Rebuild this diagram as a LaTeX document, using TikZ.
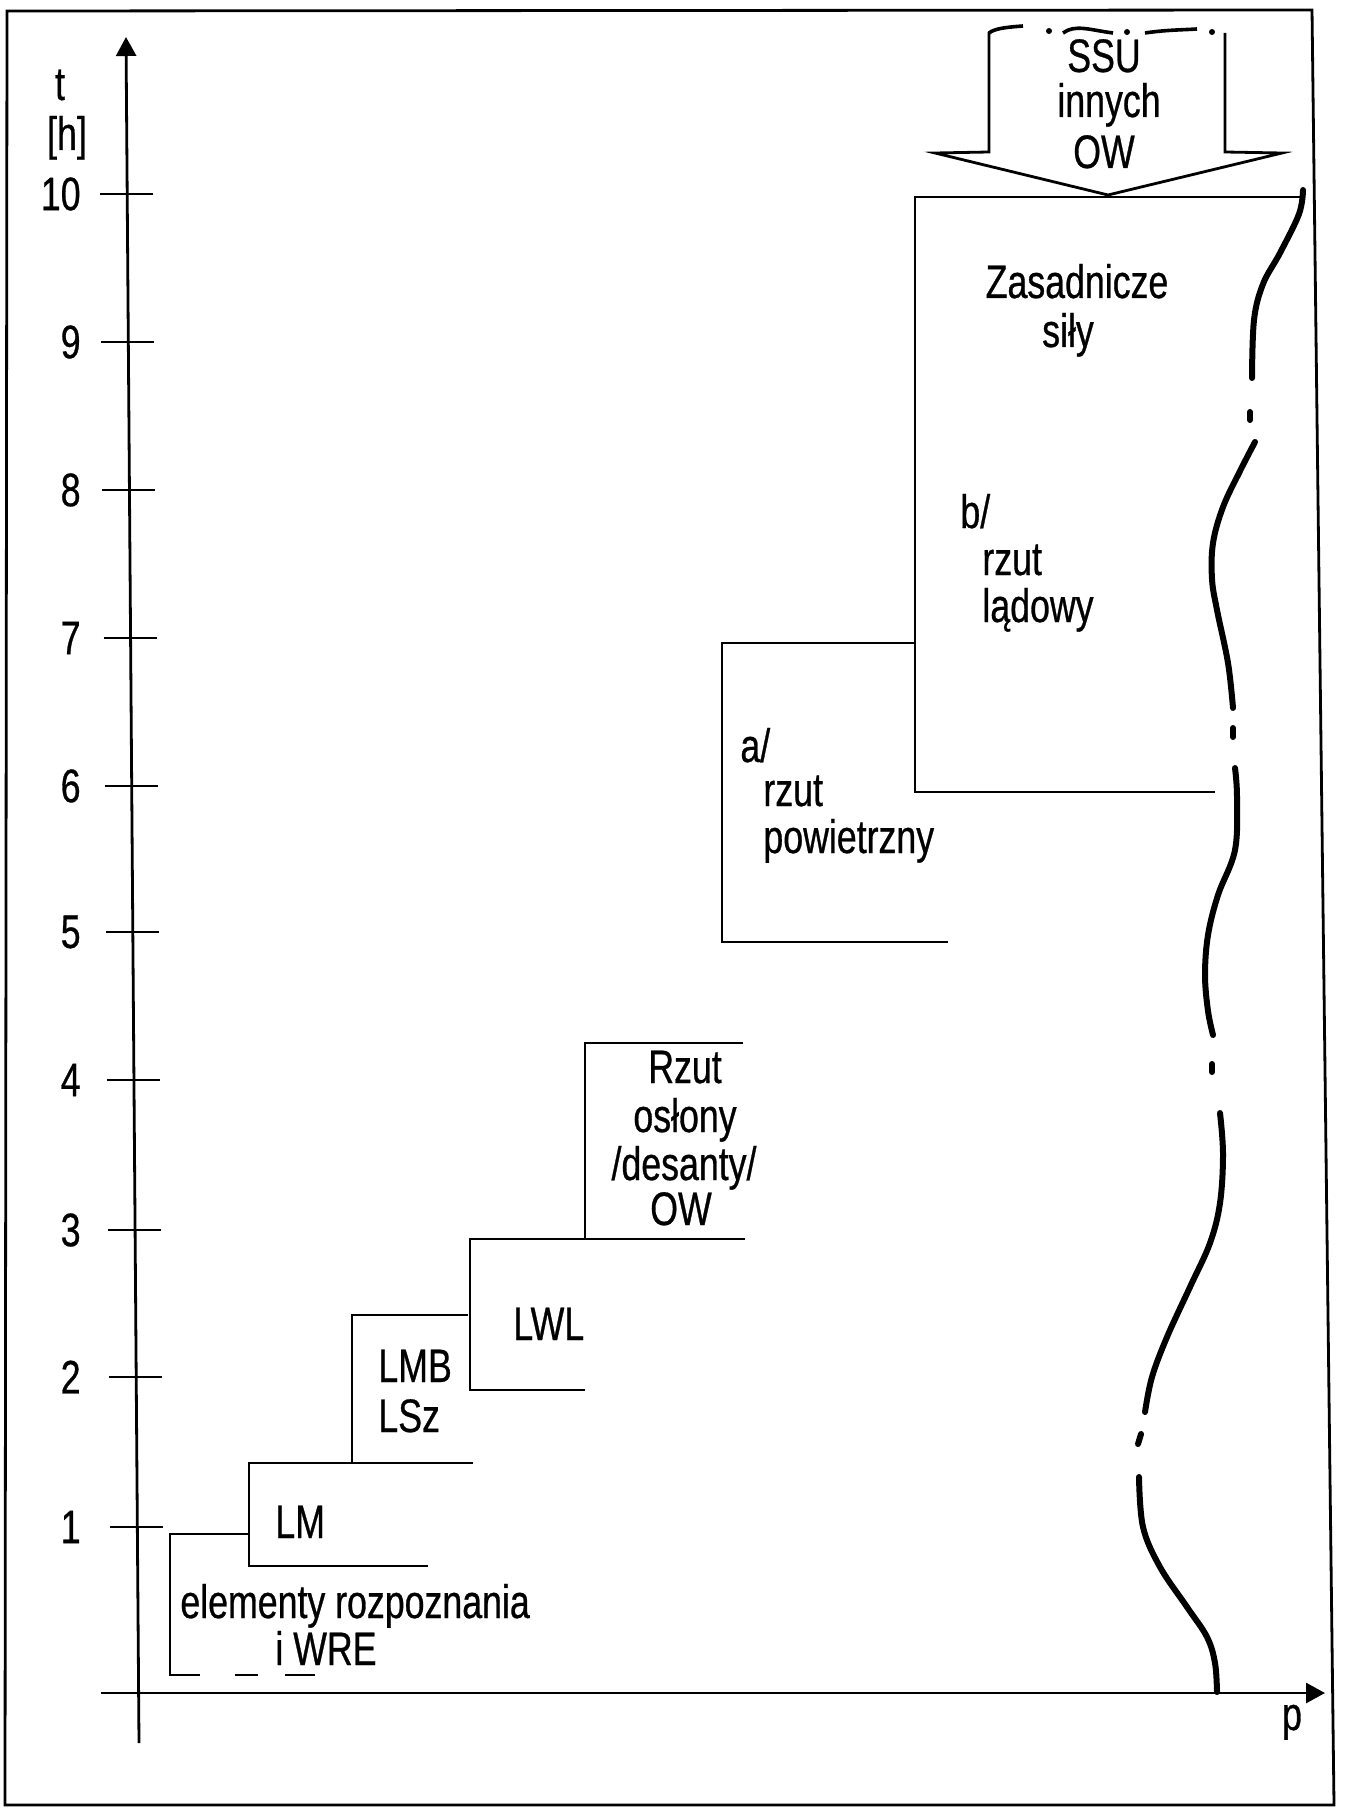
\documentclass[tikz,border=0pt]{standalone}
\usepackage{fontspec}
\setmainfont[FakeStretch=0.76,FakeBold=0.6]{Liberation Sans}
\usetikzlibrary{arrows.meta}
\begin{document}
\begin{tikzpicture}[x=0.5pt,y=-0.5pt,
  thinln/.style={line width=1.4pt, line join=miter},
  axisln/.style={line width=1.4pt},
  wave/.style={line width=3pt, line cap=round},
  lbl/.style={inner sep=0pt, font=\fontsize{23.5}{25}\selectfont},
  tip/.style={-{Triangle[length=9.5pt,width=10pt]}}]
\useasboundingbox (0,0) rectangle (1345,1808);
\fill[white] (0,0) rectangle (1345,1808);
% frame
\draw[thinln] (7,11) -- (1312,10) -- (1334,1805) -- (5,1805) -- cycle;
% axes
\coordinate (ybot) at (139,1743);
\coordinate (ytop) at (126,37);
\coordinate (xleft) at (101,1693);
\coordinate (xright) at (1325,1693);
\draw[axisln,tip] (ybot) -- (ytop);
\draw[axisln,tip] (xleft) -- (xright);
\node[lbl,anchor=base] (tlab) at (60,100) {t};
\node[lbl,anchor=base] (hlab) at (67,150) {[h]};
\node[lbl,anchor=base] (plab) at (1292,1730) {p};
\foreach \yy/\lab/\ax in {194/10/127.2, 342/9/128.3, 490/8/129.4, 638/7/130.6, 786/6/131.7, 932/5/132.8, 1080/4/133.9, 1230/3/135.1, 1377/2/136.2, 1527/1/137.4} {
  \draw[axisln] ({\ax-27},\yy) -- ({\ax+26},\yy);
  \node[lbl,anchor=east] (tick\lab) at (81,\yy) {\lab};
}
% staircase
\draw[thinln] (249,1534) -- (170,1534) -- (170,1675) -- (200,1675);
\draw[thinln] (235,1675) -- (258,1675);
\draw[thinln] (285,1675) -- (315,1675);
\draw[thinln] (473,1463) -- (249,1463) -- (249,1566) -- (428,1566);
\draw[thinln] (468,1315) -- (352,1315) -- (352,1463);
\draw[thinln] (745,1239) -- (470,1239) -- (470,1390) -- (585,1390);
\draw[thinln] (743,1043) -- (585,1043) -- (585,1239);
\draw[thinln] (915,643) -- (722,643) -- (722,942) -- (948,942);
\draw[thinln] (1300,197) -- (915,197) -- (915,792) -- (1215,792);
% SSU arrow
\draw[thinln] (989,32) -- (989,152) -- (935,153) -- (1108,195) -- (1282,153) -- (1225,152) -- (1225,33);
\draw[line width=1.8pt] (989,33) .. controls (995,28) and (1010,27) .. (1023,26);
\fill (1049,31) circle (3);
\draw[line width=1.8pt] (1063,33) .. controls (1075,24) and (1090,30) .. (1113,33);
\fill (1127,32) circle (3);
\draw[line width=1.8pt] (1145,33) .. controls (1165,30) and (1180,30) .. (1197,29);
\fill (1212,32) circle (3);
% wavy line
\draw[wave] plot[smooth, tension=0.6] coordinates {(1303,190) (1299,214) (1280,253) (1263,284) (1254,320) (1252,378)};
\draw[wave] (1250,412) -- (1250,420);
\draw[wave] plot[smooth, tension=0.6] coordinates {(1255,442) (1240,471) (1223,507) (1213,543) (1212,579) (1217,610) (1228,663) (1233,708)};
\draw[wave] (1233,728) -- (1233,737);
\draw[wave] plot[smooth, tension=0.6] coordinates {(1235,768) (1237,797) (1235,850) (1218,895) (1208,935) (1205,975) (1208,1011) (1213,1035)};
\draw[wave] (1212,1064) -- (1212,1072);
\draw[wave] plot[smooth, tension=0.6] coordinates {(1220,1113) (1223,1154) (1220,1203) (1210,1243) (1190,1287) (1167,1337) (1152,1377) (1145,1412)};
\draw[wave] (1141,1434) -- (1138,1444);
\draw[wave] plot[smooth, tension=0.6] coordinates {(1139,1477) (1143,1527) (1160,1567) (1187,1607) (1207,1637) (1215,1663) (1217,1692)};
% texts
\node[lbl,anchor=base] (ssu) at (1104,72) {SSU};
\node[lbl,anchor=base] (innych) at (1109,117) {innych};
\node[lbl,anchor=base] (ow1) at (1104,168) {OW};
\node[lbl,anchor=base] (zas) at (1077,298) {Zasadnicze};
\node[lbl,anchor=base] (sily) at (1068,347) {siły};
\node[lbl,anchor=base west] (blab) at (960,528) {b/};
\node[lbl,anchor=base west] (rzutb) at (982,575) {rzut};
\node[lbl,anchor=base west] (ladowy) at (982,622) {lądowy};
\node[lbl,anchor=base west] (alab) at (740,762) {a/};
\node[lbl,anchor=base west] (rzuta) at (763,806) {rzut};
\node[lbl,anchor=base west] (powietrzny) at (763,853) {powietrzny};
\node[lbl,anchor=base] (rzut) at (685,1083) {Rzut};
\node[lbl,anchor=base] (oslony) at (685,1132) {osłony};
\node[lbl,anchor=base] (desanty) at (684,1180) {/desanty/};
\node[lbl,anchor=base] (ow2) at (681,1225) {OW};
\node[lbl,anchor=base west] (lwl) at (513,1340) {LWL};
\node[lbl,anchor=base west] (lmb) at (378,1382) {LMB};
\node[lbl,anchor=base west] (lsz) at (378,1432) {LSz};
\node[lbl,anchor=base west] (lm) at (275,1538) {LM};
\node[lbl,anchor=base west] (elem) at (180,1618) {elementy rozpoznania};
\node[lbl,anchor=base west] (iwre) at (275,1665) {i WRE};
\end{tikzpicture}
\end{document}
